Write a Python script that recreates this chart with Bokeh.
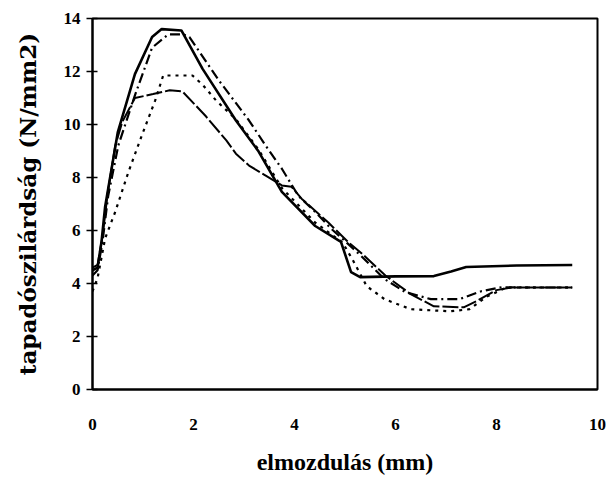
from bokeh.plotting import figure
from bokeh.models import Range1d, FixedTicker
from bokeh.embed import file_html
from bokeh.resources import INLINE

# elmozdulás (mm) vs tapadószilárdság (N/mm2)
xa = [0, 0.1, 0.18, 0.25, 0.5, 0.84, 1.18, 1.37, 1.76, 2.18, 2.84, 3.29, 3.75, 4.41, 4.92, 5.12, 5.3, 6.0, 6.76, 7.1, 7.4, 8.4, 9.5]
ya = [4.5, 4.6, 5.6, 6.9, 9.7, 11.9, 13.3, 13.6, 13.55, 12.1, 10.15, 8.98, 7.46, 6.17, 5.57, 4.43, 4.24, 4.27, 4.28, 4.45, 4.62, 4.68, 4.7]

xb = [0, 0.1, 0.2, 0.31, 0.51, 0.84, 1.18, 1.5, 1.8, 1.92, 2.5, 3.1, 3.43, 3.75, 4.08, 4.41, 4.73, 5.0, 5.32, 5.78, 6.2, 6.7, 7.27, 7.7, 8.1, 8.5, 9.5]
yb = [4.3, 4.5, 5.6, 7.3, 9.2, 11.1, 12.9, 13.4, 13.4, 13.3, 11.67, 10.15, 9.2, 8.33, 7.3, 6.7, 6.06, 5.6, 5.04, 4.17, 3.67, 3.41, 3.41, 3.71, 3.86, 3.85, 3.85]

xc = [0, 0.1, 0.25, 0.45, 0.71, 0.98, 1.24, 1.4, 1.98, 2.18, 2.45, 2.84, 3.29, 3.75, 4.41, 4.95, 5.15, 5.43, 5.78, 6.3, 7.08, 7.47, 7.8, 8.2, 9.5]
yc = [3.7, 4.2, 5.7, 6.7, 8.2, 9.6, 10.9, 11.85, 11.85, 11.5, 10.9, 10.2, 9.05, 7.6, 6.3, 5.55, 4.9, 3.9, 3.41, 3.03, 2.95, 3.03, 3.5, 3.85, 3.85]

xd = [0, 0.1, 0.2, 0.3, 0.45, 0.59, 0.84, 1.2, 1.53, 1.78, 2.25, 2.65, 2.84, 3.1, 3.43, 3.75, 3.94, 4.14, 4.67, 5.06, 5.35, 5.8, 6.3, 6.76, 7.35, 7.6, 8.0, 8.3, 9.5]
yd = [4.6, 4.7, 5.8, 7.4, 9.2, 10.1, 11.0, 11.15, 11.29, 11.25, 10.3, 9.4, 8.9, 8.45, 8.07, 7.7, 7.65, 7.2, 6.3, 5.57, 5.1, 4.3, 3.6, 3.14, 3.1, 3.33, 3.75, 3.85, 3.85]

x_ticks = [0, 2, 4, 6, 8, 10]
y_ticks = [0, 2, 4, 6, 8, 10, 12, 14]

FONT = "Liberation Serif"

p = figure(width=616, height=485, output_backend="svg", toolbar_location=None,
           x_range=Range1d(0, 10), y_range=Range1d(0, 14),
           min_border_left=92, min_border_right=19, min_border_top=18, min_border_bottom=96)

p.line(xa, ya, line_color="black", line_width=2.6)
p.line(xb, yb, line_color="black", line_width=2.2, line_dash="10 4 2 4")
p.line(xc, yc, line_color="black", line_width=2.2, line_dash="3 5")
p.line(xd, yd, line_color="black", line_width=2.0, line_dash="16 3")

p.xgrid.visible = False
p.ygrid.visible = False
p.outline_line_color = "black"
p.outline_line_width = 2
p.background_fill_color = "white"
p.border_fill_color = "white"

p.xaxis.ticker = FixedTicker(ticks=x_ticks)
p.yaxis.ticker = FixedTicker(ticks=y_ticks)
p.xaxis.minor_tick_line_color = None
p.yaxis.minor_tick_line_color = None
p.xaxis.major_tick_line_color = None
p.yaxis.major_tick_in = 5
p.yaxis.major_tick_out = 6
p.yaxis.major_tick_line_width = 1.5
for ax in (p.xaxis, p.yaxis):
    ax.axis_line_width = 2
    ax.axis_line_color = "black"
    ax.major_label_text_font = FONT
    ax.major_label_text_font_style = "bold"
    ax.major_label_text_font_size = "17px"
    ax.major_label_text_color = "black"
    ax.axis_label_text_font_style = "bold"
    ax.axis_label_text_color = "black"

p.xaxis.major_label_standoff = 23
p.yaxis.major_label_standoff = 6
p.xaxis.axis_label = "elmozdulás (mm)"
p.yaxis.axis_label = "tapadószilárdság (N/mm2)"
p.xaxis.axis_label_text_font = FONT
p.yaxis.axis_label_text_font = "DejaVu Serif"
p.xaxis.axis_label_text_font_size = "24px"
p.yaxis.axis_label_text_font_size = "23px"
p.xaxis.axis_label_standoff = 16
p.yaxis.axis_label_standoff = 20

open("out.html", "w").write(file_html(p, INLINE))
